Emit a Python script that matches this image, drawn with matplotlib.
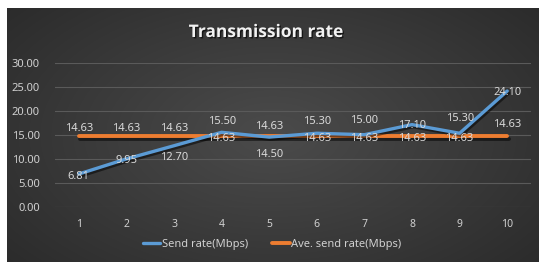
import numpy as np
import matplotlib
matplotlib.use("Agg")
import matplotlib.pyplot as plt
import matplotlib.patheffects as pe

categories = ["1", "2", "3", "4", "5", "6", "7", "8", "9", "10"]
send_rate = [6.81, 9.95, 12.70, 15.50, 14.50, 15.30, 15.00, 17.10, 15.30, 24.10]
ave_rate = [14.63] * 10
y_ticks = [0, 5, 10, 15, 20, 25, 30]
send_label_dy = [-2, -2, -12, 11, -17, 12, 14, -1, 15, -1]
ave_label_dy = [8, 8, 8, -2, 10, -2, -2, -2, -2, 12]

plt.rcParams['font.family'] = ['Noto Sans', 'DejaVu Sans']

W, H = 539, 262
fig = plt.figure(figsize=(W / 100, H / 100), dpi=100)
fig.patch.set_facecolor('white')

# dark radial-gradient panel
bg = fig.add_axes([7 / W, 0, 1 - 7 / W, 1 - 8 / H])
bg.set_axis_off()
yy, xx = np.mgrid[-1:1:200j, -1:1:400j]
r = np.sqrt((xx * 0.95) ** 2 + (yy * 0.8) ** 2)
val = 0.295 - 0.13 * np.clip(r, 0, 1.3) / 1.3
img = np.dstack([val, val, val])
bg.imshow(img, aspect='auto', extent=[0, 1, 0, 1], interpolation='bilinear')
bg.set_xlim(0, 1)
bg.set_ylim(0, 1)

ax = fig.add_axes([55 / W, 1 - 206.7 / H, (531 - 55) / W, (206.7 - 62.7) / H])
ax.patch.set_alpha(0)
x = np.arange(len(categories))
ax.set_xlim(-0.5, len(categories) - 0.5)
ax.set_ylim(0, 30)
ax.set_yticks(y_ticks)
ax.set_yticklabels([f"{v:.2f}" for v in y_ticks])
ax.set_xticks(x)
ax.set_xticklabels(categories)
ax.tick_params(axis='both', length=0, colors='#d0d0d0', labelsize=8)
ax.tick_params(axis='x', pad=9, labelsize=7.5)
ax.tick_params(axis='y', pad=11)
for s in ax.spines.values():
    s.set_visible(False)
ax.grid(axis='y', color='#5a5a5a', linewidth=0.8)
ax.set_axisbelow(True)

shadow = [pe.SimpleLineShadow(offset=(1, -1.5), shadow_color='black', alpha=0.5), pe.Normal()]
l2, = ax.plot(x, ave_rate, color='#ED7D31', linewidth=2.8, solid_capstyle='round',
              path_effects=shadow, label='Ave. send rate(Mbps)', zorder=3)
l1, = ax.plot(x, send_rate, color='#5B9BD5', linewidth=2.4, solid_capstyle='round',
              path_effects=shadow, label='Send rate(Mbps)', zorder=4)

for xi, v, dy in zip(x, send_rate, send_label_dy):
    ax.annotate(f"{v:.2f}", (xi, v), xytext=(0, dy), textcoords='offset pixels',
                ha='center', va='center', color='#d9d9d9', fontsize=8, zorder=5)
for xi, v, dy in zip(x, ave_rate, ave_label_dy):
    ax.annotate(f"{v:.2f}", (xi, v), xytext=(0, dy), textcoords='offset pixels',
                ha='center', va='center', color='#d9d9d9', fontsize=8, zorder=5)

fig.text(266 / W, 1 - 32 / H, "Transmission rate", ha='center', va='center',
         color='#f2f2f2', fontsize=12.5, fontweight='bold', family=['Open Sans', 'DejaVu Sans'],
         path_effects=[pe.withSimplePatchShadow(offset=(1, -1), shadow_rgbFace='black', alpha=0.6)])

leg = fig.legend([l1, l2], ['Send rate(Mbps)', 'Ave. send rate(Mbps)'],
                 loc='center', bbox_to_anchor=(272 / W, 1 - 244 / H), ncol=2,
                 frameon=False, fontsize=8, labelcolor='#d0d0d0',
                 handlelength=1.6, handletextpad=0.1, columnspacing=2.2)
for h in leg.legend_handles:
    h.set_path_effects([])

fig.savefig('out.png', dpi=100, facecolor='white')
